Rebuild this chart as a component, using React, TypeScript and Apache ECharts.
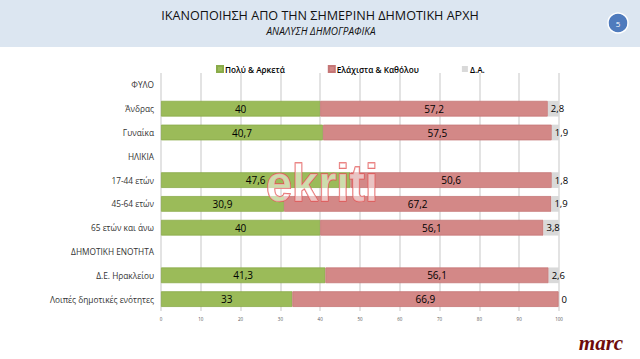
import React, { useEffect, useRef } from "react";
import * as echarts from "echarts";

const categories = [
  "ΦΥΛΟ",
  "Άνδρας",
  "Γυναίκα",
  "ΗΛΙΚΙΑ",
  "17-44 ετών",
  "45-64 ετών",
  "65 ετών και άνω",
  "ΔΗΜΟΤΙΚΗ ΕΝΟΤΗΤΑ",
  "Δ.Ε. Ηρακλείου",
  "Λοιπές δημοτικές ενότητες",
];
const seriesNames = ["Πολύ & Αρκετά", "Ελάχιστα & Καθόλου", "Δ.Α."];
const muchValues: (number | string)[] = ["-", 40, 40.7, "-", 47.6, 30.9, 40, "-", 41.3, 33];
const littleValues: (number | string)[] = ["-", 57.2, 57.5, "-", 50.6, 67.2, 56.1, "-", 56.1, 66.9];
const naValues: (number | string)[] = ["-", 2.8, 1.9, "-", 1.8, 1.9, 3.8, "-", 2.6, 0];

const title = "ΙΚΑΝΟΠΟΙΗΣΗ ΑΠΟ ΤΗΝ ΣΗΜΕΡΙΝΗ ΔΗΜΟΤΙΚΗ ΑΡΧΗ";
const subtitle = "ΑΝΑΛΥΣΗ ΔΗΜΟΓΡΑΦΙΚΑ";
const pageNumber = "5";
const watermark = "ekriti";
const logo = "marc";

const FONT = "'Open Sans', 'Noto Sans', sans-serif";
const fmt = (p: any) => String(p.value).replace(".", ",");

export default function App() {
  const ref = useRef<HTMLDivElement>(null);
  useEffect(() => {
    if (!ref.current) return;
    const chart = echarts.init(ref.current, undefined, { renderer: "svg" });
    const labelBase = {
      show: true,
      formatter: fmt,
      color: "#000",
      fontSize: 10,
      fontFamily: FONT,
    };
    chart.setOption({
      animation: false,
      backgroundColor: "#fff",
      textStyle: { fontFamily: FONT },
      graphic: [
        { type: "rect", left: 0, top: 0, shape: { width: 640, height: 47 }, style: { fill: "#dce6f1" }, z: -1 },
        {
          type: "text",
          x: 320,
          y: 15,
          style: { text: title, fill: "#111", fontSize: 12.6, fontFamily: FONT, align: "center", verticalAlign: "middle" },
        },
        {
          type: "text",
          x: 321,
          y: 31,
          style: { text: subtitle, fill: "#111", fontSize: 10, fontStyle: "italic", fontFamily: FONT, align: "center", verticalAlign: "middle" },
        },
        {
          type: "circle",
          shape: { cx: 618, cy: 23, r: 10 },
          style: { fill: "#4f7bbd", stroke: "#fff", lineWidth: 1.5 },
        },
        {
          type: "text",
          x: 618,
          y: 23,
          style: { text: pageNumber, fill: "#fff", fontSize: 8, fontFamily: FONT, align: "center", verticalAlign: "middle" },
        },
        {
          type: "text",
          x: 322,
          y: 183,
          scaleX: 0.9,
          z: 100,
          style: {
            text: watermark,
            fill: "rgba(255,255,255,0.5)",
            stroke: "rgba(225,80,80,0.9)",
            lineWidth: 1.4,
            fontSize: 52,
            fontWeight: "bold",
            fontFamily: "'Liberation Sans', Arial, sans-serif",
            align: "center",
            verticalAlign: "middle",
          },
        },
        {
          type: "text",
          x: 601,
          y: 343,
          style: {
            text: logo,
            fill: "#6e0b0b",
            fontSize: 21,
            fontStyle: "italic",
            fontWeight: "bold",
            fontFamily: "'Liberation Serif', serif",
            align: "center",
            verticalAlign: "middle",
          },
        },
      ],
      legend: {
        data: seriesNames,
        left: 211,
        top: 60,
        icon: "rect",
        itemWidth: 6,
        itemHeight: 6,
        itemGap: 43,
        textStyle: { fontSize: 8.2, color: "#000", fontFamily: FONT, fontWeight: 600, padding: [0, 0, 0, -3] },
      },
      grid: { left: 161, right: 81, top: 73, bottom: 48, containLabel: false },
      xAxis: {
        type: "value",
        min: 0,
        max: 100,
        interval: 10,
        axisLine: { show: false },
        axisTick: { show: false },
        splitLine: { show: true, lineStyle: { color: "#dadada", width: 1.5 } },
        axisLabel: { fontSize: 4.5, color: "#555", margin: 5, fontFamily: FONT },
      },
      yAxis: {
        type: "category",
        data: categories,
        inverse: true,
        axisLine: { show: false },
        axisTick: { show: false },
        axisLabel: { fontSize: 8.3, color: "#333", margin: 7, fontFamily: FONT },
      },
      series: [
        {
          name: seriesNames[0],
          type: "bar",
          stack: "total",
          data: muchValues,
          barCategoryGap: "34%",
          itemStyle: { color: "#9bbb59", borderColor: "#8aab4a", borderWidth: 0.8 },
          label: { ...labelBase, position: "inside" },
        },
        {
          name: seriesNames[1],
          type: "bar",
          stack: "total",
          data: littleValues,
          itemStyle: { color: "#d38887", borderColor: "#c57676", borderWidth: 0.8 },
          label: { ...labelBase, position: "inside" },
        },
        {
          name: seriesNames[2],
          type: "bar",
          stack: "total",
          data: naValues,
          itemStyle: { color: "#d9d9d9" },
          label: { ...labelBase, position: "insideLeft", distance: 3, fontSize: 9.5 },
        },
      ],
    });
    return () => chart.dispose();
  }, []);
  return <div ref={ref} style={{ position: "fixed", left: 0, top: 0, width: 640, height: 359 }} />;
}
